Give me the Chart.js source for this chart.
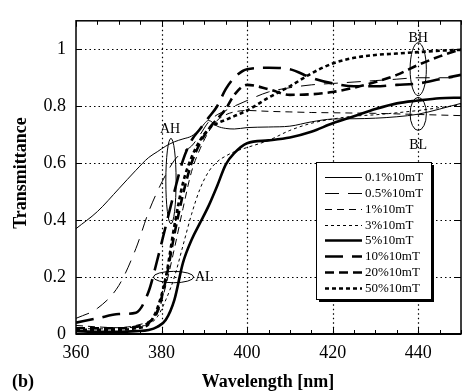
<!DOCTYPE html>
<html>
<head>
<meta charset="utf-8">
<script src="https://cdn.jsdelivr.net/npm/chart.js@4"></script>
<style>
  html, body { margin: 0; padding: 0; background: #fff; }
  canvas { display: block; }
</style>
</head>
<body>
<canvas id="chart" width="465" height="392"></canvas>
<script>
// wavelength samples [nm]
const wavelengths = [360, 365, 370, 374, 377, 379, 381, 383, 385, 387, 389, 391, 393, 395, 397, 400, 405, 410, 415, 420, 425, 430, 435, 440, 445, 450];

// transmittance per sample
const t01 = [0.37, 0.43, 0.51, 0.575, 0.62, 0.64, 0.66, 0.675, 0.685, 0.695, 0.72, 0.75, 0.73, 0.722, 0.72, 0.725, 0.727, 0.73, 0.745, 0.755, 0.756, 0.758, 0.763, 0.772, 0.79, 0.81];
const t05 = [0.055, 0.09, 0.17, 0.3, 0.43, 0.5, 0.56, 0.61, 0.64, 0.66, 0.7, 0.745, 0.77, 0.785, 0.8, 0.82, 0.85, 0.865, 0.875, 0.88, 0.885, 0.89, 0.895, 0.9, 0.9, 0.9];
const t1 = [0.03, 0.025, 0.022, 0.03, 0.045, 0.07, 0.17, 0.3, 0.44, 0.57, 0.65, 0.71, 0.75, 0.77, 0.78, 0.785, 0.782, 0.78, 0.778, 0.777, 0.776, 0.775, 0.773, 0.771, 0.769, 0.767];
const t3 = [0.02, 0.018, 0.02, 0.025, 0.035, 0.06, 0.12, 0.2, 0.31, 0.42, 0.51, 0.57, 0.605, 0.625, 0.64, 0.655, 0.68, 0.715, 0.74, 0.755, 0.765, 0.77, 0.777, 0.785, 0.795, 0.805];
const t5 = [0.01, 0.008, 0.008, 0.01, 0.014, 0.025, 0.05, 0.12, 0.25, 0.33, 0.39, 0.45, 0.52, 0.595, 0.635, 0.67, 0.68, 0.69, 0.71, 0.74, 0.765, 0.79, 0.81, 0.82, 0.828, 0.83];
const t10 = [0.04, 0.055, 0.07, 0.075, 0.15, 0.26, 0.38, 0.5, 0.61, 0.68, 0.72, 0.76, 0.8, 0.86, 0.9, 0.93, 0.935, 0.93, 0.9, 0.88, 0.87, 0.87, 0.875, 0.88, 0.895, 0.91];
const t20 = [0.02, 0.02, 0.02, 0.025, 0.04, 0.08, 0.19, 0.35, 0.49, 0.6, 0.67, 0.72, 0.755, 0.79, 0.84, 0.875, 0.86, 0.84, 0.842, 0.85, 0.865, 0.885, 0.91, 0.945, 0.975, 1.0];
const t50 = [0.015, 0.015, 0.015, 0.02, 0.035, 0.09, 0.2, 0.38, 0.53, 0.62, 0.68, 0.72, 0.74, 0.752, 0.765, 0.785, 0.83, 0.87, 0.915, 0.95, 0.97, 0.98, 0.985, 0.99, 0.995, 0.998];

const seriesLabels = ['0.1%10mT', '0.5%10mT', '1%10mT', '3%10mT', '5%10mT', '10%10mT', '20%10mT', '50%10mT'];
const xTicks = [360, 380, 400, 420, 440];
const yTicks = [0, 0.2, 0.4, 0.6, 0.8, 1];

const serif = '"Liberation Serif", "DejaVu Serif", serif';

function series(label, values, width, dash) {
    return {
        label: label,
        data: wavelengths.map((w, i) => ({ x: w, y: values[i] })),
        borderColor: '#000',
        borderWidth: width,
        borderDash: dash,
        pointRadius: 0,
        fill: false,
        cubicInterpolationMode: 'monotone'
    };
}

const datasets = [
    series(seriesLabels[0], t01, 1, []),
    series(seriesLabels[1], t05, 1, [14, 9]),
    series(seriesLabels[2], t1, 1, [7, 5]),
    series(seriesLabels[3], t3, 1, [3, 3]),
    series(seriesLabels[4], t5, 2.6, []),
    series(seriesLabels[5], t10, 2.6, [18, 9]),
    series(seriesLabels[6], t20, 2.6, [9, 5]),
    series(seriesLabels[7], t50, 2.6, [4, 3])
];

// dotted grid under the curves
const dottedGrid = {
    id: 'dottedGrid',
    beforeDatasetsDraw(chart) {
        const ctx = chart.ctx;
        const a = chart.chartArea;
        const x = chart.scales.x, y = chart.scales.y;
        ctx.save();
        ctx.strokeStyle = '#000';
        ctx.lineWidth = 1.2;
        ctx.setLineDash([1.5, 3]);
        ctx.beginPath();
        xTicks.slice(1).forEach(v => {
            const px = Math.round(x.getPixelForValue(v)) + 0.5;
            ctx.moveTo(px, a.top); ctx.lineTo(px, a.bottom);
        });
        yTicks.slice(1).forEach(v => {
            const py = Math.round(y.getPixelForValue(v)) + 0.5;
            ctx.moveTo(a.left, py); ctx.lineTo(a.right, py);
        });
        ctx.stroke();
        ctx.restore();
    }
};

// frame, inward ticks, titles, legend box and the AH/AL/BH/BL marks
const decor = {
    id: 'decor',
    afterDraw(chart) {
        const ctx = chart.ctx;
        const a = chart.chartArea;
        const x = chart.scales.x, y = chart.scales.y;
        ctx.save();
        ctx.strokeStyle = '#000';
        ctx.fillStyle = '#000';

        // ticks
        ctx.lineWidth = 1;
        ctx.beginPath();
        for (let v = 360; v <= 450; v += 5) {
            const px = Math.round(x.getPixelForValue(v)) + 0.5;
            const len = v % 20 === 0 ? 6 : 4;
            ctx.moveTo(px, a.bottom); ctx.lineTo(px, a.bottom - len);
            ctx.moveTo(px, a.top); ctx.lineTo(px, a.top + len);
        }
        yTicks.forEach(v => {
            const py = Math.round(y.getPixelForValue(v)) + 0.5;
            ctx.moveTo(a.left, py); ctx.lineTo(a.left + 6, py);
            ctx.moveTo(a.right, py); ctx.lineTo(a.right - 6, py);
        });
        ctx.stroke();

        // frame
        ctx.lineWidth = 1.5;
        ctx.strokeRect(a.left, a.top, a.right - a.left, a.bottom - a.top);
        ctx.lineWidth = 2;
        ctx.beginPath();
        ctx.moveTo(a.left, a.bottom); ctx.lineTo(a.right, a.bottom);
        ctx.stroke();

        // ellipses + labels
        ctx.lineWidth = 1;
        const ell = (cx, cy, rx, ry) => {
            ctx.beginPath();
            ctx.ellipse(x.getPixelForValue(cx), y.getPixelForValue(cy),
                Math.abs(x.getPixelForValue(cx + rx) - x.getPixelForValue(cx)),
                Math.abs(y.getPixelForValue(cy + ry) - y.getPixelForValue(cy)), 0, 0, Math.PI * 2);
            ctx.stroke();
        };
        ell(382.2, 0.537, 1.2, 0.15);
        ell(382.8, 0.2, 4.7, 0.02);
        ell(440, 0.93, 1.9, 0.093);
        ell(440, 0.773, 1.9, 0.058);
        ctx.font = '14px ' + serif;
        ctx.textAlign = 'center';
        ctx.textBaseline = 'middle';
        ctx.fillText('AH', x.getPixelForValue(382), y.getPixelForValue(0.72));
        ctx.fillText('BH', x.getPixelForValue(440), y.getPixelForValue(1.04));
        ctx.fillText('BL', x.getPixelForValue(440), y.getPixelForValue(0.663));
        ctx.textAlign = 'left';
        ctx.fillText('AL', x.getPixelForValue(387.8), y.getPixelForValue(0.198));

        // legend
        const lx = 316, ly = 162, lw = 115, lh = 137;
        ctx.fillRect(lx + 3, ly + 3, lw, lh);
        ctx.fillStyle = '#fff';
        ctx.fillRect(lx, ly, lw, lh);
        ctx.strokeRect(lx + 0.5, ly + 0.5, lw, lh);
        ctx.fillStyle = '#000';
        ctx.font = '13px ' + serif;
        chart.data.datasets.forEach((ds, i) => {
            const ry = Math.round(177 + i * 15.86) + 0.5;
            ctx.lineWidth = ds.borderWidth;
            ctx.setLineDash(ds.borderDash);
            ctx.beginPath();
            ctx.moveTo(325, ry); ctx.lineTo(362, ry);
            ctx.stroke();
            ctx.setLineDash([]);
            ctx.fillText(ds.label, 365, ry);
        });

        // axis titles
        ctx.font = 'bold 18px ' + serif;
        ctx.textAlign = 'center';
        ctx.fillText('Wavelength [nm]', 268, 382);
        ctx.textAlign = 'left';
        ctx.fillText('(b)', 12, 382);
        ctx.translate(21, 173);
        ctx.rotate(-Math.PI / 2);
        ctx.textAlign = 'center';
        ctx.fillText('Transmittance', 0, 0);
        ctx.restore();
    }
};

new Chart(document.getElementById('chart'), {
    type: 'line',
    data: { datasets: datasets },
    options: {
        responsive: false,
        animation: false,
        devicePixelRatio: 1,
        layout: { padding: { top: 4, right: 4, left: 0, bottom: 0 } },
        plugins: { legend: { display: false }, tooltip: { enabled: false } },
        scales: {
            x: {
                type: 'linear',
                min: 360,
                max: 450,
                afterBuildTicks: s => { s.ticks = xTicks.map(v => ({ value: v })); },
                afterFit: s => { s.height = 58; },
                grid: { display: false, drawTicks: false },
                border: { display: false },
                ticks: { color: '#000', font: { family: serif, size: 18 }, padding: 8, maxRotation: 0,
                    callback: v => String(v) }
            },
            y: {
                min: 0,
                max: 1.1,
                afterBuildTicks: s => { s.ticks = yTicks.map(v => ({ value: v })); },
                afterFit: s => { s.width = 76; },
                grid: { display: false, drawTicks: false },
                border: { display: false },
                ticks: { color: '#000', font: { family: serif, size: 18 }, padding: 10,
                    callback: v => String(v) }
            }
        }
    },
    plugins: [dottedGrid, decor]
});
</script>
</body>
</html>
